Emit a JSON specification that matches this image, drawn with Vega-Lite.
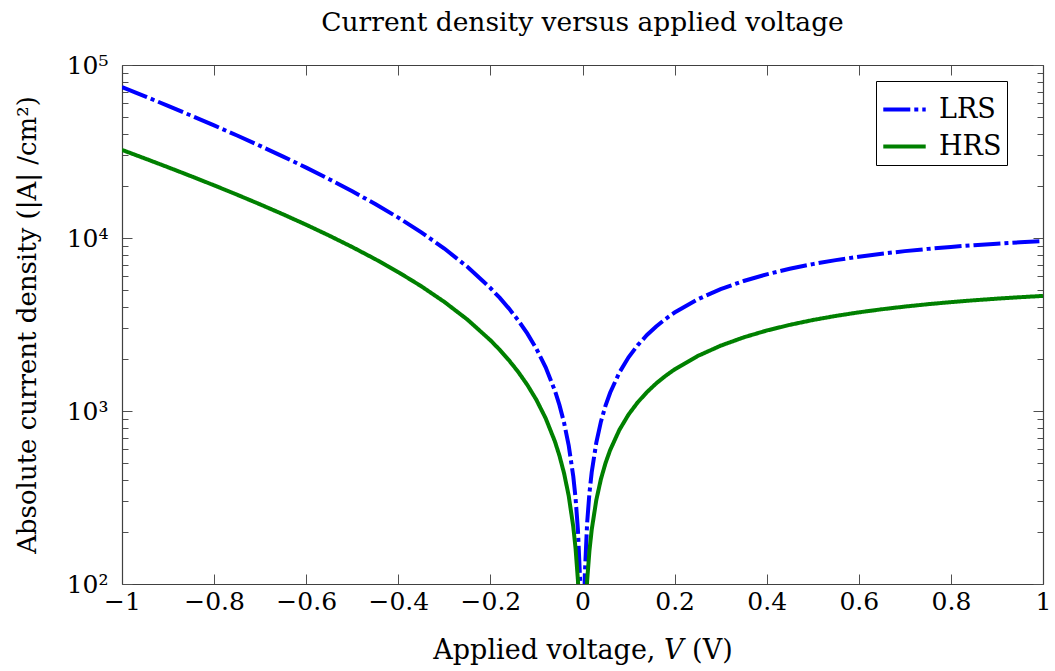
{
  "$schema": "https://vega.github.io/schema/vega-lite/v6.json",
  "autosize": "none",
  "width": 921,
  "height": 519,
  "padding": {"left": 122, "top": 65, "right": 12, "bottom": 87},
  "background": "white",
  "title": {"text": "Current density versus applied voltage", "font": "DejaVu Serif", "fontSize": 26.5, "fontWeight": "normal", "color": "black", "anchor": "middle", "offset": 17},
  "config": {
    "view": {"stroke": null},
    "axis": {"labelFont": "DejaVu Serif", "titleFont": "DejaVu Serif", "labelFontSize": 25, "titleFontSize": 26, "titleFontWeight": "normal", "labelColor": "black", "titleColor": "black", "domainColor": "#404040", "tickColor": "#505050", "domainWidth": 1.2, "tickWidth": 1, "grid": false, "labelFlush": false, "labelOverlap": false},
    "legend": {"labelFont": "DejaVu Serif", "labelFontSize": 27, "labelColor": "black", "symbolType": "stroke", "symbolSize": 1800, "symbolStrokeWidth": 4, "strokeColor": "black", "fillColor": "white", "padding": 5, "rowPadding": 0, "labelOffset": 11, "orient": "none", "legendX": 754, "legendY": 16}
  },
  "data": {"values": [
    {"V": -1, "J": 74600, "s": "LRS"}, {"V": -0.95, "J": 65862, "s": "LRS"}, {"V": -0.9, "J": 58032, "s": "LRS"}, {"V": -0.85, "J": 51019, "s": "LRS"}, {"V": -0.8, "J": 44736, "s": "LRS"}, {"V": -0.75, "J": 39108, "s": "LRS"}, {"V": -0.7, "J": 34066, "s": "LRS"}, {"V": -0.65, "J": 29549, "s": "LRS"}, {"V": -0.6, "J": 25503, "s": "LRS"}, {"V": -0.55, "J": 21878, "s": "LRS"}, {"V": -0.5, "J": 18631, "s": "LRS"}, {"V": -0.45, "J": 15721, "s": "LRS"}, {"V": -0.4, "J": 13116, "s": "LRS"}, {"V": -0.35, "J": 10781, "s": "LRS"}, {"V": -0.3, "J": 8690, "s": "LRS"}, {"V": -0.25, "J": 6817, "s": "LRS"}, {"V": -0.2, "J": 5138, "s": "LRS"}, {"V": -0.18, "J": 4517, "s": "LRS"}, {"V": -0.16, "J": 3922, "s": "LRS"}, {"V": -0.14, "J": 3353, "s": "LRS"}, {"V": -0.12, "J": 2808, "s": "LRS"}, {"V": -0.1, "J": 2288, "s": "LRS"}, {"V": -0.08, "J": 1789, "s": "LRS"}, {"V": -0.06, "J": 1312, "s": "LRS"}, {"V": -0.05, "J": 1081, "s": "LRS"}, {"V": -0.04, "J": 855, "s": "LRS"}, {"V": -0.03, "J": 634, "s": "LRS"}, {"V": -0.02, "J": 418, "s": "LRS"}, {"V": -0.015, "J": 312, "s": "LRS"}, {"V": -0.01, "J": 207, "s": "LRS"}, {"V": -0.005, "J": 103, "s": "LRS"}, {"V": -0.002, "J": 41, "s": "LRS"},
    {"V": 0.002, "J": 45, "s": "LRS"}, {"V": 0.005, "J": 112, "s": "LRS"}, {"V": 0.01, "J": 224, "s": "LRS"}, {"V": 0.015, "J": 334, "s": "LRS"}, {"V": 0.02, "J": 443, "s": "LRS"}, {"V": 0.03, "J": 657, "s": "LRS"}, {"V": 0.04, "J": 868, "s": "LRS"}, {"V": 0.05, "J": 1074, "s": "LRS"}, {"V": 0.06, "J": 1275, "s": "LRS"}, {"V": 0.08, "J": 1667, "s": "LRS"}, {"V": 0.1, "J": 2043, "s": "LRS"}, {"V": 0.12, "J": 2403, "s": "LRS"}, {"V": 0.14, "J": 2749, "s": "LRS"}, {"V": 0.16, "J": 3082, "s": "LRS"}, {"V": 0.18, "J": 3400, "s": "LRS"}, {"V": 0.2, "J": 3707, "s": "LRS"}, {"V": 0.25, "J": 4419, "s": "LRS"}, {"V": 0.3, "J": 5062, "s": "LRS"}, {"V": 0.35, "J": 5643, "s": "LRS"}, {"V": 0.4, "J": 6166, "s": "LRS"}, {"V": 0.45, "J": 6639, "s": "LRS"}, {"V": 0.5, "J": 7066, "s": "LRS"}, {"V": 0.55, "J": 7451, "s": "LRS"}, {"V": 0.6, "J": 7799, "s": "LRS"}, {"V": 0.65, "J": 8113, "s": "LRS"}, {"V": 0.7, "J": 8396, "s": "LRS"}, {"V": 0.75, "J": 8652, "s": "LRS"}, {"V": 0.8, "J": 8882, "s": "LRS"}, {"V": 0.85, "J": 9091, "s": "LRS"}, {"V": 0.9, "J": 9278, "s": "LRS"}, {"V": 0.95, "J": 9448, "s": "LRS"}, {"V": 1, "J": 9601, "s": "LRS"},
    {"V": -1, "J": 32292, "s": "HRS"}, {"V": -0.95, "J": 28801, "s": "HRS"}, {"V": -0.9, "J": 25635, "s": "HRS"}, {"V": -0.85, "J": 22762, "s": "HRS"}, {"V": -0.8, "J": 20155, "s": "HRS"}, {"V": -0.75, "J": 17790, "s": "HRS"}, {"V": -0.7, "J": 15643, "s": "HRS"}, {"V": -0.65, "J": 13695, "s": "HRS"}, {"V": -0.6, "J": 11927, "s": "HRS"}, {"V": -0.55, "J": 10322, "s": "HRS"}, {"V": -0.5, "J": 8866, "s": "HRS"}, {"V": -0.45, "J": 7545, "s": "HRS"}, {"V": -0.4, "J": 6348, "s": "HRS"}, {"V": -0.35, "J": 5260, "s": "HRS"}, {"V": -0.3, "J": 4272, "s": "HRS"}, {"V": -0.25, "J": 3377, "s": "HRS"}, {"V": -0.2, "J": 2564, "s": "HRS"}, {"V": -0.18, "J": 2261, "s": "HRS"}, {"V": -0.16, "J": 1969, "s": "HRS"}, {"V": -0.14, "J": 1688, "s": "HRS"}, {"V": -0.12, "J": 1418, "s": "HRS"}, {"V": -0.1, "J": 1158, "s": "HRS"}, {"V": -0.08, "J": 908, "s": "HRS"}, {"V": -0.06, "J": 668, "s": "HRS"}, {"V": -0.05, "J": 551, "s": "HRS"}, {"V": -0.04, "J": 436, "s": "HRS"}, {"V": -0.03, "J": 324, "s": "HRS"}, {"V": -0.02, "J": 214, "s": "HRS"}, {"V": -0.015, "J": 160, "s": "HRS"}, {"V": -0.01, "J": 106, "s": "HRS"}, {"V": -0.005, "J": 53, "s": "HRS"}, {"V": -0.002, "J": 21, "s": "HRS"},
    {"V": 0.002, "J": 21, "s": "HRS"}, {"V": 0.005, "J": 52, "s": "HRS"}, {"V": 0.01, "J": 104, "s": "HRS"}, {"V": 0.015, "J": 155, "s": "HRS"}, {"V": 0.02, "J": 206, "s": "HRS"}, {"V": 0.03, "J": 306, "s": "HRS"}, {"V": 0.04, "J": 404, "s": "HRS"}, {"V": 0.05, "J": 500, "s": "HRS"}, {"V": 0.06, "J": 594, "s": "HRS"}, {"V": 0.08, "J": 777, "s": "HRS"}, {"V": 0.1, "J": 954, "s": "HRS"}, {"V": 0.12, "J": 1123, "s": "HRS"}, {"V": 0.14, "J": 1286, "s": "HRS"}, {"V": 0.16, "J": 1443, "s": "HRS"}, {"V": 0.18, "J": 1594, "s": "HRS"}, {"V": 0.2, "J": 1739, "s": "HRS"}, {"V": 0.25, "J": 2078, "s": "HRS"}, {"V": 0.3, "J": 2385, "s": "HRS"}, {"V": 0.35, "J": 2665, "s": "HRS"}, {"V": 0.4, "J": 2918, "s": "HRS"}, {"V": 0.45, "J": 3147, "s": "HRS"}, {"V": 0.5, "J": 3356, "s": "HRS"}, {"V": 0.55, "J": 3545, "s": "HRS"}, {"V": 0.6, "J": 3717, "s": "HRS"}, {"V": 0.65, "J": 3873, "s": "HRS"}, {"V": 0.7, "J": 4014, "s": "HRS"}, {"V": 0.75, "J": 4143, "s": "HRS"}, {"V": 0.8, "J": 4259, "s": "HRS"}, {"V": 0.85, "J": 4365, "s": "HRS"}, {"V": 0.9, "J": 4460, "s": "HRS"}, {"V": 0.95, "J": 4547, "s": "HRS"}, {"V": 1, "J": 4626, "s": "HRS"}
  ]},
  "resolve": {"axis": {"x": "independent", "y": "independent"}},
  "layer": [
    {
      "mark": {"type": "line", "strokeWidth": 4, "clip": true, "strokeCap": "butt"},
      "encoding": {
        "x": {"field": "V", "type": "quantitative", "scale": {"domain": [-1, 1], "nice": false, "zero": false},
              "axis": {"orient": "bottom", "values": [-1, -0.8, -0.6, -0.4, -0.2, 0, 0.2, 0.4, 0.6, 0.8, 1], "format": "~g", "tickSize": -10, "labelPadding": 15, "title": "Applied voltage, 𝑉 (V)", "titleFontSize": 27, "titlePadding": 23}},
        "y": {"field": "J", "type": "quantitative", "scale": {"type": "log", "domain": [100, 100000], "nice": false},
              "axis": {"orient": "left", "values": [100, 200, 300, 400, 500, 600, 700, 800, 900, 1000, 2000, 3000, 4000, 5000, 6000, 7000, 8000, 9000, 10000, 20000, 30000, 40000, 50000, 60000, 70000, 80000, 90000, 100000],
                       "labelExpr": "datum.value == 100 ? '10²' : datum.value == 1000 ? '10³' : datum.value == 10000 ? '10⁴' : datum.value == 100000 ? '10⁵' : ''",
                       "tickSize": -10, "labelPadding": 24,
                       "tickDash": {"condition": {"test": "datum.value != 100 && datum.value != 1000 && datum.value != 10000 && datum.value != 100000", "value": [6, 40]}, "value": [10, 0]},
                       "title": "Absolute current density (|A| /cm²)", "titlePadding": 26}},
        "color": {"field": "s", "type": "nominal", "sort": ["LRS", "HRS"], "scale": {"domain": ["LRS", "HRS"], "range": ["#0000ff", "#008000"]}, "title": null},
        "strokeDash": {"field": "s", "type": "nominal", "sort": ["LRS", "HRS"], "scale": {"domain": ["LRS", "HRS"], "range": [[27, 4, 4, 4], [1, 0]]}, "title": null}
      }
    },
    {
      "mark": {"type": "point", "opacity": 0},
      "encoding": {
        "x": {"field": "V", "type": "quantitative",
              "axis": {"orient": "top", "values": [-1, -0.8, -0.6, -0.4, -0.2, 0, 0.2, 0.4, 0.6, 0.8, 1], "labels": false, "tickSize": -10, "title": null}},
        "y": {"field": "J", "type": "quantitative",
              "axis": {"orient": "right", "values": [100, 200, 300, 400, 500, 600, 700, 800, 900, 1000, 2000, 3000, 4000, 5000, 6000, 7000, 8000, 9000, 10000, 20000, 30000, 40000, 50000, 60000, 70000, 80000, 90000, 100000], "labels": false, "tickSize": -10,
                       "tickDash": {"condition": {"test": "datum.value != 100 && datum.value != 1000 && datum.value != 10000 && datum.value != 100000", "value": [6, 40]}, "value": [10, 0]},
                       "title": null}}
      }
    }
  ]
}
